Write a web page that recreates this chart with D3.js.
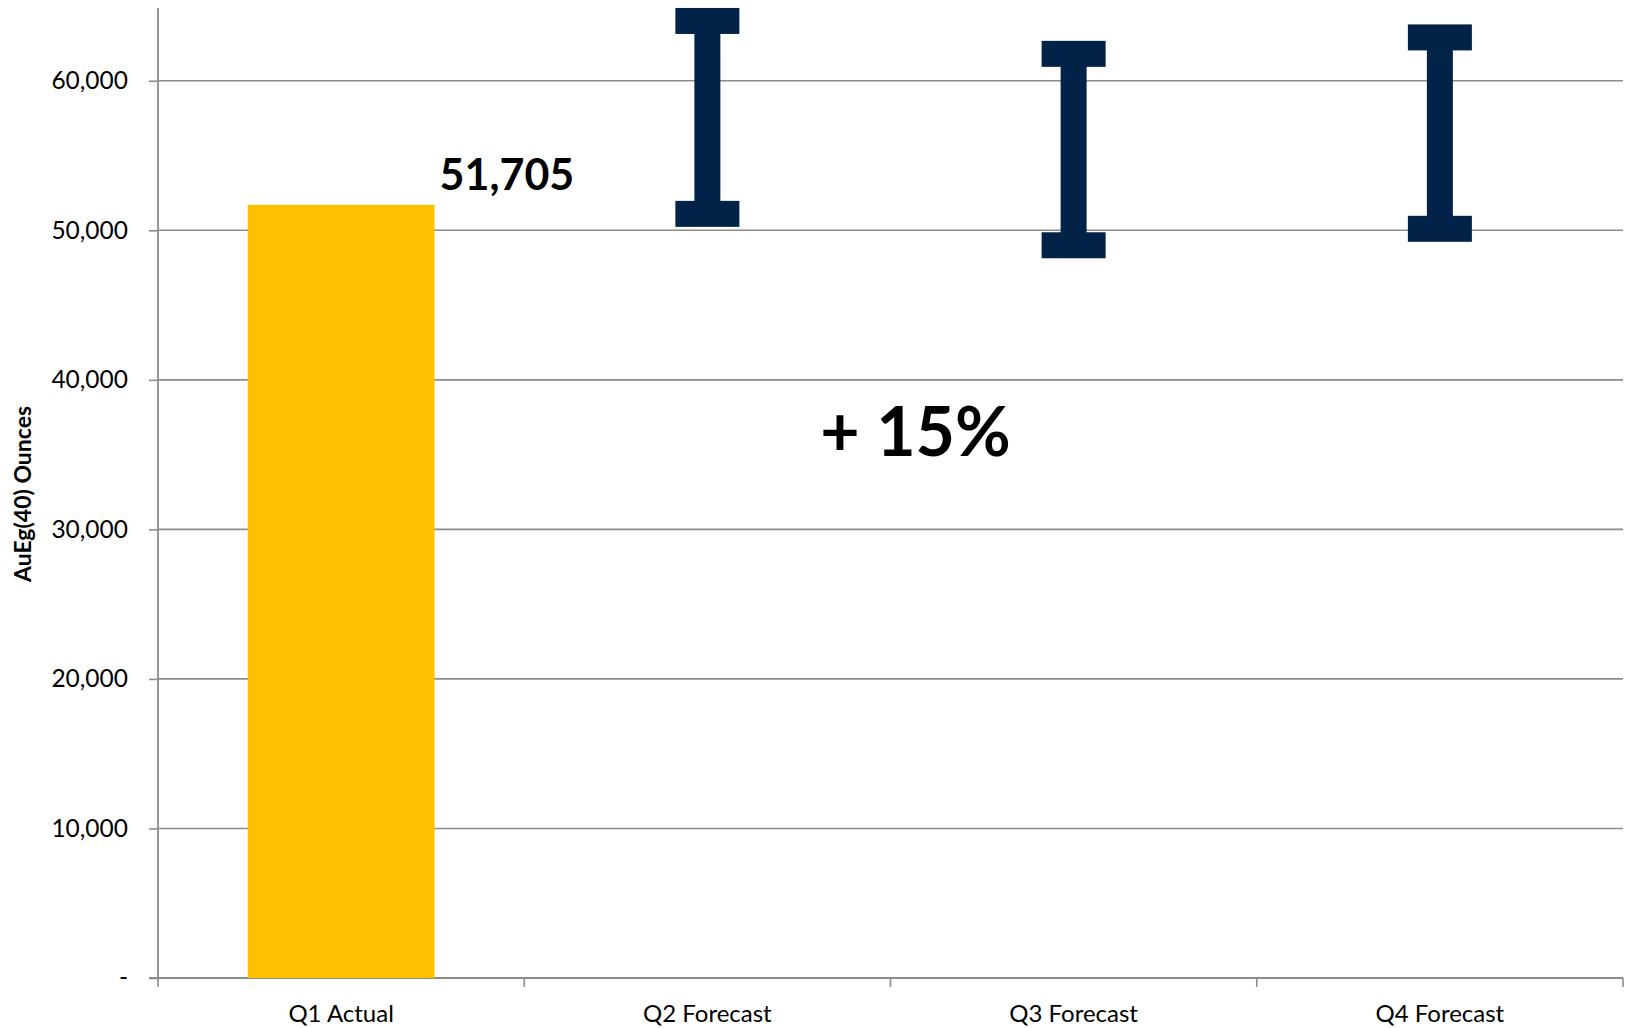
<!DOCTYPE html>
<html>
<head>
<meta charset="utf-8">
<script src="https://cdn.jsdelivr.net/npm/d3@7"></script>
<style>
  html, body { margin: 0; padding: 0; background: #ffffff; }
  svg { display: block; font-family: Lato, "Open Sans", sans-serif; }
</style>
</head>
<body>
<svg id="chart" width="1628" height="1028"></svg>
<script>
// Quarterly gold-equivalent ounces: Q1 actual plus forecast ranges for Q2–Q4
const categories = ["Q1 Actual", "Q2 Forecast", "Q3 Forecast", "Q4 Forecast"];
const actualOunces = [51705, null, null, null];
const forecastLow = [null, 51100, 49000, 50100];
const forecastHigh = [null, 64000, 61800, 62900];
const yTickValues = [0, 10000, 20000, 30000, 40000, 50000, 60000];
const yTickLabels = ["-", "10,000", "20,000", "30,000", "40,000", "50,000", "60,000"];
const yAxisTitle = "AuEg(40) Ounces";
const growthNote = "+ 15%";
const growthNoteLevel = 35000;

const svg = d3.select("#chart");
const margin = { left: 158, right: 5, top: 6, bottom: 50 };
const W = 1628, H = 1028;
const gridColor = "#8c8c8c";
const barColor = "#FFC000";
const rangeColor = "#022347";

const x = d3.scaleBand()
  .domain(categories)
  .range([margin.left, W - margin.right])
  .paddingInner(0.49)
  .paddingOuter(0.245);

const y = d3.scaleLinear()
  .domain([0, 65000])
  .range([H - margin.bottom, margin.top]);

const step = x.step();
const bandCenter = c => x(c) + x.bandwidth() / 2;
const boundaries = d3.range(categories.length + 1).map(i => margin.left + i * step);

// Horizontal gridlines
svg.append("g")
  .selectAll("line")
  .data(yTickValues.filter(v => v > 0))
  .join("line")
  .attr("x1", margin.left)
  .attr("x2", W - margin.right)
  .attr("y1", d => y(d))
  .attr("y2", d => y(d))
  .attr("stroke", gridColor)
  .attr("stroke-width", 1.6);

// Y axis
const yAxis = d3.axisLeft(y)
  .tickValues(yTickValues)
  .tickFormat((d, i) => yTickLabels[i])
  .tickSize(9)
  .tickPadding(21);

const gy = svg.append("g")
  .attr("transform", `translate(${margin.left},0)`)
  .call(yAxis);
gy.select(".domain").remove();
gy.selectAll(".tick line").attr("stroke", gridColor).attr("stroke-width", 1.6);
gy.selectAll(".tick text")
  .attr("fill", "#000")
  .style("font-size", "24.5px")
  .style("font-family", "Lato, sans-serif");
gy.append("line")
  .attr("x1", 0).attr("x2", 0)
  .attr("y1", y.range()[1] + 2).attr("y2", y(0))
  .attr("stroke", gridColor)
  .attr("stroke-width", 1.8);

// Y axis title
svg.append("text")
  .attr("transform", `translate(31,${(y(0) + y.range()[1]) / 2 + 2}) rotate(-90)`)
  .attr("text-anchor", "middle")
  .style("font-size", "23px")
  .style("font-weight", "700")
  .attr("fill", "#000")
  .text(yAxisTitle);

// X axis baseline, category dividers and labels
const gx = svg.append("g");
gx.append("line")
  .attr("x1", margin.left - 9).attr("x2", W - margin.right)
  .attr("y1", y(0)).attr("y2", y(0))
  .attr("stroke", gridColor)
  .attr("stroke-width", 1.8);
gx.selectAll("line.divider")
  .data(boundaries)
  .join("line")
  .attr("class", "divider")
  .attr("x1", d => d).attr("x2", d => d)
  .attr("y1", y(0)).attr("y2", y(0) + 9)
  .attr("stroke", gridColor)
  .attr("stroke-width", 1.6);
gx.selectAll("text")
  .data(categories)
  .join("text")
  .attr("x", d => bandCenter(d))
  .attr("y", y(0) + 44)
  .attr("text-anchor", "middle")
  .style("font-size", "24px")
  .attr("fill", "#000")
  .text(d => d);

// Actual bar
const barData = categories.map((c, i) => ({ c, v: actualOunces[i] })).filter(d => d.v != null);
svg.append("g")
  .selectAll("rect")
  .data(barData)
  .join("rect")
  .attr("x", d => x(d.c))
  .attr("width", x.bandwidth())
  .attr("y", d => y(d.v))
  .attr("height", d => y(0) - y(d.v))
  .attr("fill", barColor);

svg.append("g")
  .selectAll("text")
  .data(barData)
  .join("text")
  .attr("x", d => x(d.c) + x.bandwidth() + 5)
  .attr("y", d => y(d.v) - 15)
  .style("font-size", "43px")
  .style("font-weight", "700")
  .attr("fill", "#000")
  .text(d => d3.format(",")(d.v));

// Forecast ranges drawn as I-beams
const rangeData = categories.map((c, i) => ({ c, lo: forecastLow[i], hi: forecastHigh[i] }))
  .filter(d => d.lo != null);
const capW = 64, capH = 26, stemW = 26;
const beams = svg.append("g").selectAll("g").data(rangeData).join("g");
beams.append("rect")
  .attr("x", d => bandCenter(d.c) - stemW / 2)
  .attr("width", stemW)
  .attr("y", d => y(d.hi))
  .attr("height", d => y(d.lo) - y(d.hi))
  .attr("fill", rangeColor);
beams.append("rect")
  .attr("x", d => bandCenter(d.c) - capW / 2)
  .attr("width", capW)
  .attr("y", d => y(d.hi) - capH / 2)
  .attr("height", capH)
  .attr("fill", rangeColor);
beams.append("rect")
  .attr("x", d => bandCenter(d.c) - capW / 2)
  .attr("width", capW)
  .attr("y", d => y(d.lo) - capH / 2)
  .attr("height", capH)
  .attr("fill", rangeColor);

// Growth annotation
svg.append("text")
  .attr("x", boundaries[2] + 25)
  .attr("y", y(growthNoteLevel) + 1)
  .attr("text-anchor", "middle")
  .style("font-size", "68px")
  .style("font-weight", "700")
  .attr("fill", "#000")
  .text(growthNote);
</script>
</body>
</html>
